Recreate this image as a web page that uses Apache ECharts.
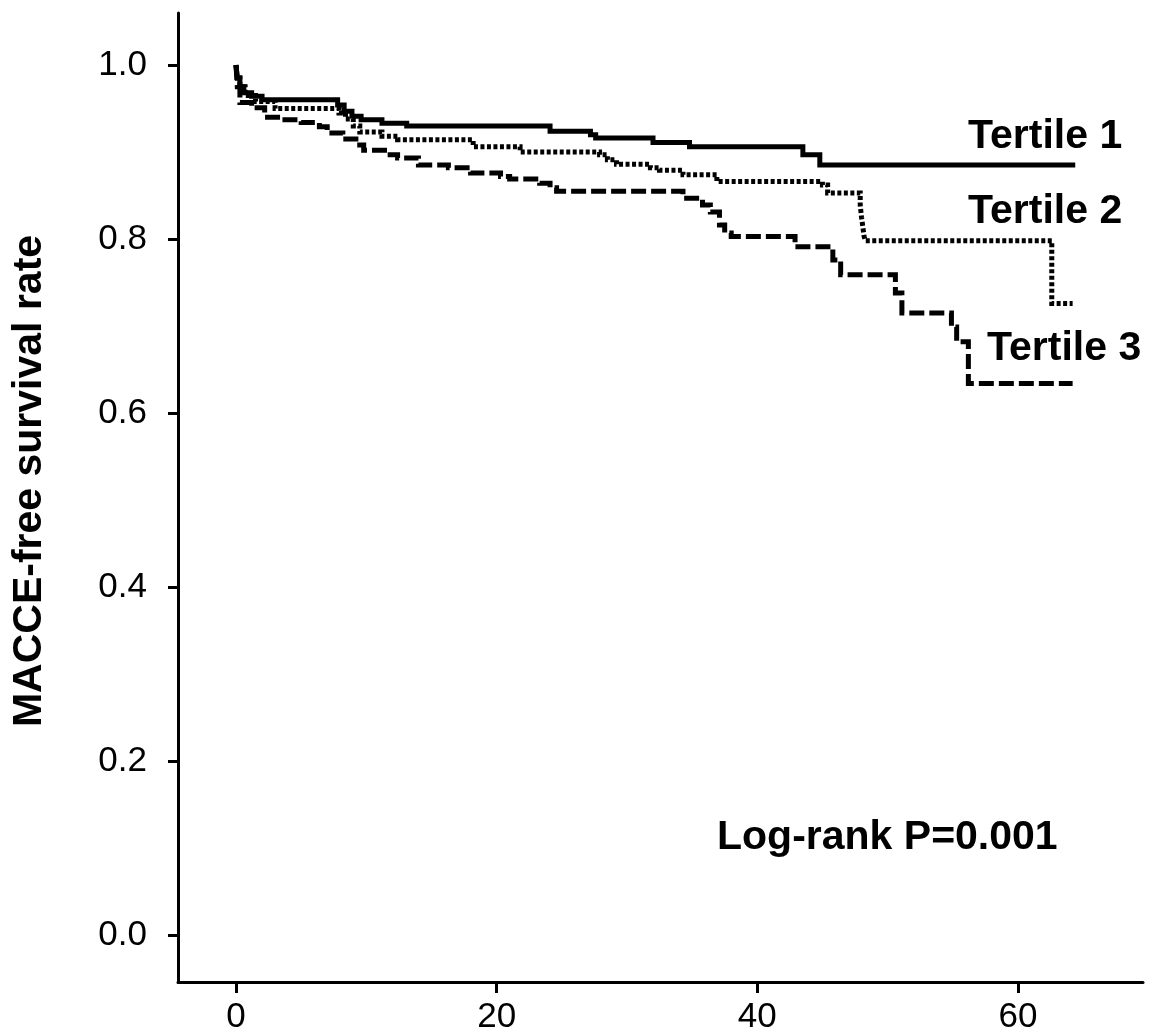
<!DOCTYPE html>
<html>
<head>
<meta charset="utf-8">
<script src="https://cdn.jsdelivr.net/npm/echarts@6/dist/echarts.min.js"></script>
<style>
html,body{margin:0;padding:0;background:#fff;}
#chart{width:1158px;height:1032px;}
</style>
</head>
<body>
<div id="chart"></div>
<script>
// ---- Data (months vs MACCE-free survival rate), step points ----
const t1Times = [0, 0.1, 0.3, 0.6, 1.2, 2.0, 7.8, 8.3, 8.9, 9.6, 11.2, 13.1, 24.1, 27.2, 27.6, 32.0, 34.8, 43.5, 44.8, 64.4];
const t1Surv  = [1.0, 0.985, 0.975, 0.968, 0.964, 0.960, 0.954, 0.947, 0.941, 0.937, 0.933, 0.930, 0.924, 0.920, 0.916, 0.911, 0.906, 0.897, 0.885, 0.885];

const t2Times = [0, 0.1, 0.3, 0.7, 1.5, 3.0, 7.9, 8.4, 9.0, 9.5, 11.2, 12.4, 18.2, 21.8, 27.9, 28.5, 29.2, 31.8, 32.5, 34.3, 36.9, 45.0, 45.4, 47.9, 48.0, 48.1, 48.2, 48.3, 62.6, 64.2];
const t2Surv  = [1.0, 0.985, 0.975, 0.965, 0.958, 0.950, 0.945, 0.938, 0.930, 0.923, 0.918, 0.914, 0.906, 0.900, 0.897, 0.891, 0.886, 0.882, 0.879, 0.874, 0.866, 0.862, 0.853, 0.839, 0.825, 0.814, 0.803, 0.798, 0.726, 0.726];

const t3Times = [0, 0.1, 0.3, 1.2, 2.2, 3.5, 5.0, 6.4, 7.0, 8.2, 9.2, 9.8, 11.6, 12.4, 14.0, 16.3, 18.0, 20.3, 21.0, 23.3, 24.1, 24.6, 34.3, 35.8, 36.4, 37.1, 37.5, 38.0, 42.9, 45.8, 46.4, 50.6, 51.1, 54.9, 55.3, 56.2, 64.2];
const t3Surv  = [1.0, 0.975, 0.957, 0.951, 0.940, 0.937, 0.934, 0.929, 0.922, 0.915, 0.908, 0.902, 0.897, 0.893, 0.885, 0.882, 0.876, 0.872, 0.869, 0.864, 0.859, 0.855, 0.847, 0.839, 0.831, 0.816, 0.807, 0.803, 0.791, 0.776, 0.759, 0.738, 0.715, 0.699, 0.682, 0.634, 0.634];

const seriesNames = ['Tertile 1', 'Tertile 2', 'Tertile 3'];
const xTicks = [0, 20, 40, 60];
const yTicks = [0, 0.2, 0.4, 0.6, 0.8, 1.0];
const yTitle = 'MACCE-free survival rate';
const pText = 'Log-rank P=0.001';

function pairs(ts, ss) { return ts.map((t, i) => [t, ss[i]]); }

const FONT = '"Liberation Sans", Arial, Helvetica, sans-serif';
const chart = echarts.init(document.getElementById('chart'), null, {renderer: 'canvas'});

const axisLine = {show: true, onZero: false, lineStyle: {color: '#000', width: 3}};

chart.setOption({
  animation: false,
  backgroundColor: '#fff',
  grid: {left: 178, right: 15, top: 13, bottom: 50, containLabel: false, outerBoundsMode: 'none'},
  xAxis: {
    type: 'value', min: -4.45, max: 69.6,
    splitLine: {show: false},
    axisLine: axisLine,
    axisTick: {show: true, length: 11, lineStyle: {color: '#000', width: 3}, customValues: xTicks},
    axisLabel: {color: '#000', fontSize: 35, fontFamily: FONT, margin: 18, customValues: xTicks,
      formatter: v => String(v)}
  },
  yAxis: {
    type: 'value', min: -0.054, max: 1.0598,
    splitLine: {show: false},
    axisLine: axisLine,
    axisTick: {show: true, length: 10, lineStyle: {color: '#000', width: 3}, customValues: yTicks},
    axisLabel: {color: '#000', fontSize: 35, fontFamily: FONT, margin: 31, customValues: yTicks,
      formatter: v => v.toFixed(1)}
  },
  series: [
    {name: seriesNames[0], type: 'line', step: 'end', symbol: 'none',
     data: pairs(t1Times, t1Surv),
     lineStyle: {color: '#000', width: 5, type: 'solid', cap: 'butt', join: 'miter'}},
    {name: seriesNames[1], type: 'line', step: 'end', symbol: 'none',
     data: pairs(t2Times, t2Surv),
     lineStyle: {color: '#000', width: 5, type: [4, 2.5], cap: 'butt', join: 'miter'}},
    {name: seriesNames[2], type: 'line', step: 'end', symbol: 'none',
     data: pairs(t3Times, t3Surv),
     lineStyle: {color: '#000', width: 5, type: [15, 5], cap: 'butt', join: 'miter'}}
  ],
  graphic: [
    {type: 'text', x: 30, y: 481, rotation: Math.PI / 2,
     style: {text: yTitle, fontSize: 41, fontWeight: 'bold', fontFamily: FONT, fill: '#000', align: 'center', verticalAlign: 'middle'}},
    {type: 'text', x: 968, y: 137,
     style: {text: seriesNames[0], fontSize: 41, fontWeight: 'bold', fontFamily: FONT, fill: '#000', align: 'left', verticalAlign: 'middle'}},
    {type: 'text', x: 968, y: 212,
     style: {text: seriesNames[1], fontSize: 41, fontWeight: 'bold', fontFamily: FONT, fill: '#000', align: 'left', verticalAlign: 'middle'}},
    {type: 'text', x: 987, y: 349,
     style: {text: seriesNames[2], fontSize: 41, fontWeight: 'bold', fontFamily: FONT, fill: '#000', align: 'left', verticalAlign: 'middle'}},
    {type: 'text', x: 717, y: 838,
     style: {text: pText, fontSize: 41, fontWeight: 'bold', fontFamily: FONT, fill: '#000', align: 'left', verticalAlign: 'middle'}}
  ]
});
</script>
</body>
</html>
